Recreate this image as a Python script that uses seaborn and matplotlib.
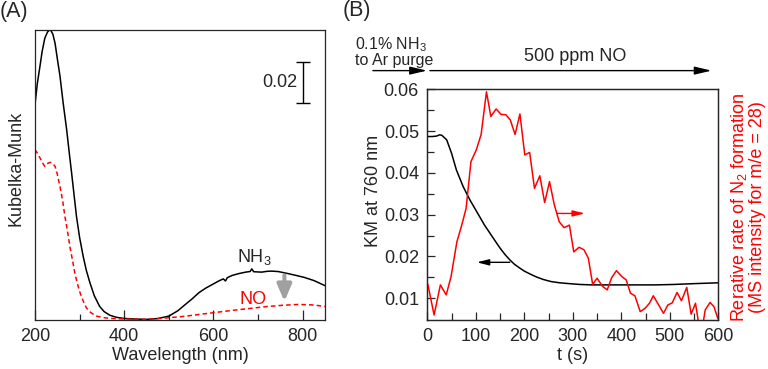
import numpy as np
import pandas as pd
import matplotlib
matplotlib.use("Agg")
import matplotlib.pyplot as plt
import seaborn as sns

# (A) Kubelka-Munk spectra
wl_nh3 = [200, 205, 211, 216, 222, 228, 234, 240, 245, 250, 256, 263, 271, 277, 282, 288, 293, 300,
          308, 315, 323, 333, 345, 355, 368, 383, 398, 420, 450, 475, 500, 520, 537, 552, 567, 582,
          597, 612, 622, 627, 631, 642, 657, 672, 682, 686, 690, 700, 708, 720, 730, 745, 767, 785,
          804, 825, 845, 850]
km_nh3 = [0.105, 0.115, 0.1236, 0.131, 0.1375, 0.1405, 0.1418, 0.1395, 0.135, 0.1275, 0.119, 0.106,
          0.0927, 0.081, 0.0717, 0.060, 0.0503, 0.040, 0.0308, 0.024, 0.018, 0.0115, 0.0063, 0.0038,
          0.002, 0.001, 0.0005, 0.0002, 0.0, 0.0004, 0.0016, 0.0042, 0.0073, 0.010, 0.013, 0.0152,
          0.017, 0.0188, 0.0198, 0.0188, 0.0204, 0.0215, 0.0224, 0.0231, 0.0234, 0.0247, 0.0233,
          0.0232, 0.0231, 0.0235, 0.0236, 0.0234, 0.0224, 0.0215, 0.0205, 0.019, 0.017, 0.0165]

wl_no = [200, 206, 211, 217, 222, 228, 234, 240, 245, 250, 256, 262, 267, 273, 278, 284, 289, 295,
         301, 308, 315, 325, 338, 352, 368, 400, 450, 500, 535, 567, 605, 642, 680, 716, 755, 790,
         820, 845, 850]
km_no = [0.083, 0.081, 0.079, 0.0765, 0.0748, 0.0762, 0.0768, 0.0762, 0.0748, 0.071, 0.065, 0.058,
         0.0504, 0.043, 0.0358, 0.029, 0.0229, 0.0175, 0.013, 0.009, 0.0057, 0.0033, 0.0016, 0.0009,
         0.0005, 0.0002, 0.0, 0.0008, 0.0015, 0.0024, 0.0034, 0.0044, 0.0053, 0.0062, 0.0069,
         0.0073, 0.0071, 0.0065, 0.0063]

# (B) time course
t_km = [0, 10, 19, 25, 30, 40, 50, 60, 74, 88, 98, 108, 118, 129, 140, 150, 160, 170, 180, 191,
        200, 212, 225, 239, 255, 273, 293, 315, 340, 370, 400, 438, 470, 507, 550, 600]
km_760 = [0.0487, 0.0487, 0.0488, 0.0491, 0.0490, 0.0479, 0.0447, 0.0407, 0.0367, 0.0335, 0.0315,
          0.0295, 0.0275, 0.0256, 0.0237, 0.022, 0.0205, 0.0192, 0.0181, 0.0172, 0.0165, 0.0158,
          0.0151, 0.0145, 0.014, 0.0137, 0.0135, 0.0133, 0.0132, 0.0132, 0.0132, 0.0132, 0.0132,
          0.0133, 0.0135, 0.0137]

t_ms = [1, 14, 27, 39, 49, 61, 71, 80, 90, 101, 111, 122, 131, 142, 152, 162, 171, 181, 191, 201,
        211, 221, 232, 242, 252, 262, 272, 282, 293, 302, 313, 323, 332, 341, 350, 361, 371, 380,
        390, 401, 410, 419, 428, 439, 449, 458, 466, 476, 487, 496, 505, 515, 524, 535, 544, 553,
        560, 568, 573, 583, 591, 599]
ms_28 = [0.0134, 0.006, 0.0132, 0.0108, 0.0152, 0.0235, 0.0275, 0.0315, 0.0427, 0.0455, 0.0492,
         0.0594, 0.0535, 0.0553, 0.054, 0.0539, 0.0527, 0.0492, 0.0541, 0.0443, 0.0449, 0.0363,
         0.0393, 0.0329, 0.0379, 0.0323, 0.0283, 0.0269, 0.0275, 0.0211, 0.0222, 0.0216, 0.0196,
         0.0133, 0.0148, 0.0129, 0.012, 0.0149, 0.0166, 0.0152, 0.0144, 0.0112, 0.0106, 0.0068,
         0.0076, 0.0088, 0.0106, 0.0086, 0.0064, 0.0084, 0.0089, 0.0114, 0.0094, 0.0126, 0.0062,
         0.0088, 0.0036, 0.0036, 0.0072, 0.009, 0.008, 0.0052]

sns.set_style("ticks")
plt.rcParams['font.family'] = ['Liberation Sans', 'DejaVu Sans']
plt.rcParams['mathtext.fontset'] = 'custom'
plt.rcParams['mathtext.rm'] = 'Liberation Sans'
plt.rcParams['mathtext.it'] = 'Liberation Sans:italic'
plt.rcParams['axes.linewidth'] = 0.9
FS = 13

fig = plt.figure(figsize=(7.68, 3.69), dpi=100)
axA = fig.add_axes([35/768, 1-320/369, 290/768, 290/369])
axB = fig.add_axes([427.3/768, 1-320/369, 291/768, 230.7/369])

# ---- panel A
dfA1 = pd.DataFrame({'wl': wl_nh3, 'km': km_nh3})
dfA2 = pd.DataFrame({'wl': wl_no, 'km': km_no})
sns.lineplot(data=dfA1, x='wl', y='km', color='black', lw=1.1, ax=axA)
sns.lineplot(data=dfA2, x='wl', y='km', color='red', lw=1.1, ax=axA, linestyle=(0, (3, 2)))
axA.set_xlim(200, 850)
axA.set_ylim(-0.0003, 0.1415)
axA.set_xticks([200, 400, 600, 800])
axA.set_xticks([300, 500, 700], minor=True)
axA.set_yticks([])
axA.tick_params(axis='x', which='major', direction='in', length=7, width=0.9, labelsize=FS, pad=6)
axA.tick_params(axis='x', which='minor', direction='in', length=4, width=0.9)
axA.set_xlabel('Wavelength (nm)', fontsize=FS, labelpad=1)
axA.set_ylabel('Kubelka-Munk', fontsize=FS, labelpad=4)
axA.yaxis.set_label_coords(-0.036, 0.524)

# scale bar
axA.errorbar(800, 0.116, yerr=0.01, color='black', capsize=5, lw=1.0, capthick=1.0)
axA.text(788, 0.116, '0.02', fontsize=FS, ha='right', va='center')
axA.text(692, 0.0307, 'NH$_{\\mathregular{3}}$', fontsize=FS, ha='center', va='center')
axA.text(688, 0.0098, 'NO', fontsize=FS, ha='center', va='center', color='red')
axA.annotate('', xy=(759, 0.0088), xytext=(759, 0.0215),
             arrowprops=dict(arrowstyle='-|>,head_length=1.0,head_width=0.43', color='#a0a0a0',
                             lw=2.9, mutation_scale=10, shrinkA=0, shrinkB=0))

# ---- panel B
dfB1 = pd.DataFrame({'t': t_km, 'km': km_760})
dfB2 = pd.DataFrame({'t': t_ms, 'ms': ms_28})
sns.lineplot(data=dfB1, x='t', y='km', color='black', lw=1.1, ax=axB)
axB.set_xlim(0, 600)
axB.set_ylim(0.0048, 0.06)
axB.set_xticks(np.arange(0, 601, 100))
axB.set_xticks(np.arange(50, 600, 100), minor=True)
axB.set_yticks([0.01, 0.02, 0.03, 0.04, 0.05, 0.06])
axB.set_yticklabels(['0.01', '0.02', '0.03', '0.04', '0.05', '0.06'])
axB.set_yticks(np.arange(0.015, 0.06, 0.01), minor=True)
axB.tick_params(which='major', direction='in', length=6, width=0.9, labelsize=FS, pad=6)
axB.tick_params(which='minor', direction='in', length=5, width=0.9)
axB.set_xlabel('t (s)', fontsize=FS, labelpad=1)
axB.set_ylabel('KM at 760 nm', fontsize=FS, labelpad=4)
axB.yaxis.set_label_coords(-0.156, 0.56)

ax2 = axB.twinx()
sns.lineplot(data=dfB2, x='t', y='ms', color='red', lw=1.1, ax=ax2)
ax2.set_ylim(0.0048, 0.06)
ax2.set_yticks([])
ax2.set_ylabel('')
axB.text(1.1, 0.49, 'Rerative rate of N$_{\\mathregular{2}}$ formation\n(MS intensity for m/e = 28)',
         transform=axB.transAxes, rotation=90, color='red', fontsize=13,
         ha='center', va='center', multialignment='center', linespacing=0.95)

small_head = '-|>,head_length=0.6,head_width=0.15'
axB.annotate('', xy=(102, 0.0186), xytext=(170, 0.0186),
             arrowprops=dict(arrowstyle=small_head, color='black', lw=1.0, mutation_scale=12,
                             shrinkA=0, shrinkB=0))
ax2.annotate('', xy=(325, 0.0303), xytext=(267, 0.0303),
             arrowprops=dict(arrowstyle=small_head, color='red', lw=1.0, mutation_scale=12,
                             shrinkA=0, shrinkB=0))

# gas switching annotation above the panel
long_head = '-|>,head_length=0.85,head_width=0.2'
axB.annotate('', xy=(-0.001, 1.081), xytext=(-0.187, 1.081), xycoords='axes fraction',
             arrowprops=dict(arrowstyle=long_head, color='black', lw=1.0, mutation_scale=12,
                             shrinkA=0, shrinkB=0),
             annotation_clip=False)
axB.annotate('', xy=(0.977, 1.081), xytext=(0.009, 1.081), xycoords='axes fraction',
             arrowprops=dict(arrowstyle=long_head, color='black', lw=1.0, mutation_scale=12,
                             shrinkA=0, shrinkB=0),
             annotation_clip=False)
axB.text(-0.25, 1.163, '0.1% NH$_{\\mathregular{3}}$\nto Ar purge', transform=axB.transAxes,
         fontsize=11.5, ha='left', va='center', linespacing=0.95)
axB.text(0.507, 1.141, '500 ppm NO', transform=axB.transAxes, fontsize=13, ha='center', va='center')

fig.text(0.0, 1-1/369, '(A)', fontsize=15.5, ha='left', va='top')
fig.text(343/768, 1-0/369, '(B)', fontsize=15.5, ha='left', va='top')

plt.savefig('out.png', dpi=100)
